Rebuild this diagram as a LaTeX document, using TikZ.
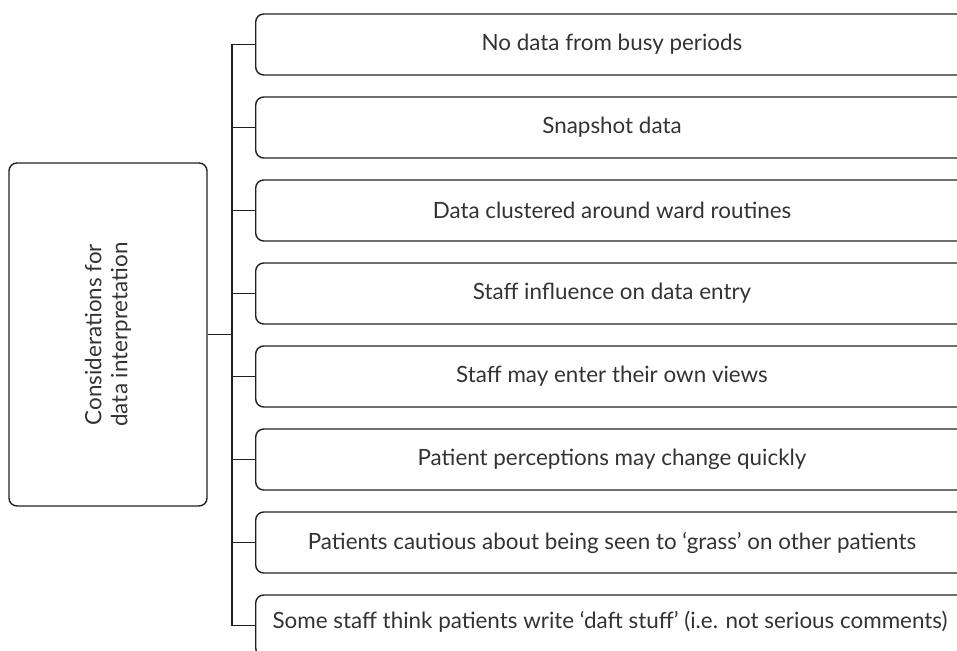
\documentclass[tikz,border=0pt]{standalone}
\usepackage{fontspec}
\setmainfont{Lato}
\definecolor{linec}{HTML}{231F20}
\definecolor{textc}{HTML}{333333}
\begin{document}
\begin{tikzpicture}[x=1pt,y=-1pt,
  every node/.style={font=\fontsize{22.4}{26}\selectfont, text=textc},
  item/.style={draw=linec, line width=1.4pt, rounded corners=8pt, minimum width=715pt, minimum height=61pt, inner sep=0pt, anchor=west},
  root/.style={draw=linec, line width=1.4pt, rounded corners=8pt, minimum width=198pt, minimum height=343pt, inner sep=0pt},
  conn/.style={draw=linec, line width=1.4pt}]
\useasboundingbox (0,0) rectangle (957,650);
\begin{scope}
\clip (0,0) rectangle (957,650);
\node[root] (r) at (108,334.5) {};
\node[rotate=90, align=center, font=\fontsize{22.4}{26}\selectfont] at (r.center) {Considerations for\\data interpretation};
\node[item] (b1) at (255,44.5) {};
\node[item] (b2) at (255,127.5) {};
\node[item] (b3) at (255,210.5) {};
\node[item] (b4) at (255,293.5) {};
\node[item] (b5) at (255,376.5) {};
\node[item] (b6) at (255,459.5) {};
\node[item] (b7) at (255,542.5) {};
\node[item] (b8) at (255,625.5) {};
\node at (612,44.5) {No data from busy periods};
\node at (612,127.5) {Snapshot data};
\node at (612,210.5) {Data clustered around ward routines};
\node at (612,293.5) {Staff influence on data entry};
\node at (612,376.5) {Staff may enter their own views};
\node at (612,459.5) {Patient perceptions may change quickly};
\node at (612,542.5) {Patients cautious about being seen to ‘grass’ on other patients};
\node at (610,622) {Some staff think patients write ‘daft stuff’ (i.e. not serious comments)};
\end{scope}
\coordinate (t) at (232,0);
\draw[conn] (r.east) -- (r.east -| t);
\draw[conn] (b1.west -| t) -- (b8.west -| t);
\foreach \i in {1,...,8} {\draw[conn] (b\i.west -| t) -- (b\i.west);}
\end{tikzpicture}
\end{document}
